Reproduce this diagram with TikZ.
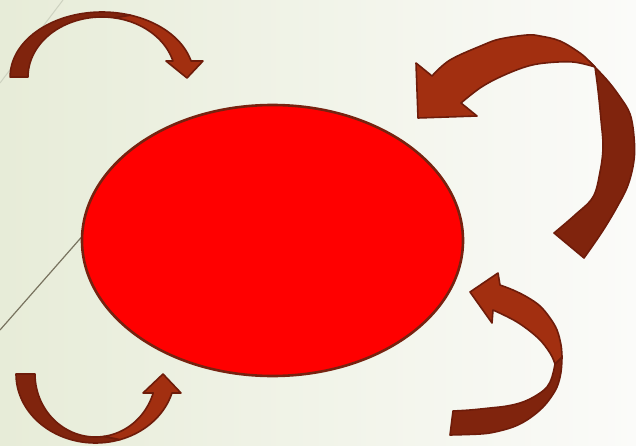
\documentclass[tikz,border=0pt]{standalone}
\usetikzlibrary{shapes.geometric}
\definecolor{bgl}{HTML}{E7ECD8}
\definecolor{bgr}{HTML}{FBFBF9}
\definecolor{ellline}{HTML}{762210}
\definecolor{arrdk}{HTML}{80240D}
\definecolor{arrlt}{HTML}{A22F10}
\definecolor{arrln}{HTML}{6E1C0A}
\definecolor{deco}{HTML}{78735F}
\definecolor{decofaint}{HTML}{CDD2C0}
\begin{document}
\begin{tikzpicture}[x=1pt,y=-1pt,
  dkpart/.style={fill=arrdk, draw=arrln, line width=1.6pt, line join=round},
  ltpart/.style={fill=arrlt, draw=arrln, line width=1.6pt, line join=round},
  decoline/.style={draw=deco, line width=1.2pt},
  faintline/.style={draw=decofaint, line width=1pt}]
\useasboundingbox (0,0) rectangle (636,446);
\shade[left color=bgl, right color=bgr] (0,0) rectangle (636,446);
% background decoration lines
\coordinate (f1) at (63,0);
\coordinate (f2) at (0,83);
\draw[faintline] (f1) -- (f2);
\coordinate (d1) at (0,330);
\coordinate (d2) at (86,232);
\draw[decoline] (d1) -- (d2);
% red ellipse
\node[ellipse, fill=red, draw=ellline, line width=2.6pt, minimum width=381pt,
      minimum height=271pt, inner sep=0pt] (ell) at (272.5,240.5) {};
% arrow 1 (top left): outer (102,77) 91.9x65, inner (101.8,77) 73.8x60
\filldraw[dkpart] plot[domain=180:72, samples=40, variable=\t] ({102+91.9*cos(\t)},{77-65*sin(\t)})
  -- plot[domain=80:180, samples=40, variable=\t] ({101.8+73.8*cos(\t)},{77-60*sin(\t)}) -- cycle;
\filldraw[ltpart] plot[domain=72:14.25, samples=40, variable=\t] ({102+91.9*cos(\t)},{77-65*sin(\t)})
  -- (203,61) -- (187,78) -- (166,61)
  -- plot[domain=15.47:80, samples=40, variable=\t] ({101.8+73.8*cos(\t)},{77-60*sin(\t)}) -- cycle;
% arrow 4 (bottom left): outer (95.5,374) 79.5x69, inner (95.5,374) 60.5x63
\filldraw[dkpart] plot[domain=180:72, samples=40, variable=\t] ({95.5+79.5*cos(\t)},{374+69*sin(\t)})
  -- plot[domain=82:180, samples=40, variable=\t] ({95.5+60.5*cos(\t)},{374+63*sin(\t)}) -- cycle;
\filldraw[ltpart] plot[domain=72:15.98, samples=40, variable=\t] ({95.5+79.5*cos(\t)},{374+69*sin(\t)})
  -- (181,393) -- (163,374) -- (143,393)
  -- plot[domain=17.55:82, samples=40, variable=\t] ({95.5+60.5*cos(\t)},{374+63*sin(\t)}) -- cycle;
% arrow 2 (top right, large)
\filldraw[dkpart] plot[smooth, tension=0.6] coordinates {(589,61) (607,80) (620,97) (630,114) (634,137) (634,160) (628,185) (617,207) (602,232) (584,258)}
  -- plot[smooth, tension=0.6] coordinates {(554,233) (575,215) (593,197) (600,172) (603,147) (601,120) (598,90) (595,67)} -- cycle;
\filldraw[ltpart] plot[smooth, tension=0.6] coordinates {(589,61) (580,53) (560,41) (540,36) (527,35) (500,39) (483,45) (450,60) (432,76)}
  -- (416,63) -- (418,118) -- (477,116)
  -- plot[smooth, tension=0.6] coordinates {(461,103) (480,88) (500,77) (525,67) (545,63) (573,62) (595,67)} -- cycle;
% arrow 3 (bottom right)
\filldraw[dkpart] plot[smooth, tension=0.6] coordinates {(562,357) (561,372) (557,387) (549,400) (540,410) (527,420) (513,427) (495,432) (480,434) (450,435)}
  -- plot[smooth, tension=0.6] coordinates {(453,411) (470,410) (490,408) (507,406) (523,402) (537,395) (547,387) (552,377) (555,364)} -- cycle;
\filldraw[ltpart] plot[smooth, tension=0.6] coordinates {(562,357) (561,345) (557,330) (550,318) (540,306) (527,297) (513,290) (500,285)}
  -- (498,273) -- (470,292) -- (492,323)
  -- plot[smooth, tension=0.6] coordinates {(493,310) (517,322) (538,338) (550,353) (555,364)} -- cycle;
\end{tikzpicture}
\end{document}
